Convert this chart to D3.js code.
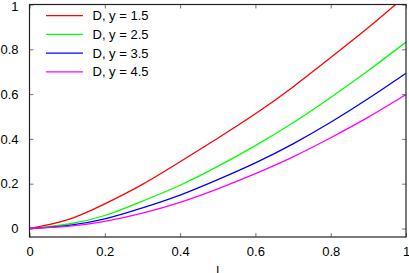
<!DOCTYPE html>
<html>
<head>
<meta charset="utf-8">
<script src="https://cdn.jsdelivr.net/npm/d3@7"></script>
<style>
  html, body { margin: 0; padding: 0; background: #fff; }
  svg { display: block; }
  text { font-family: "Liberation Sans", Arial, sans-serif; }
</style>
</head>
<body>
<div id="chart"></div>
<script>
// values
const lValues = [0, 0.1, 0.2, 0.3, 0.4, 0.5, 0.6, 0.7, 0.8, 0.9, 1.0];
const dY15 = [0, 0.038, 0.110, 0.197, 0.298, 0.403, 0.512, 0.632, 0.763, 0.897, 1.04];
const dY25 = [0, 0.019, 0.058, 0.122, 0.193, 0.277, 0.370, 0.472, 0.585, 0.705, 0.832];
const dY35 = [0, 0.013, 0.043, 0.092, 0.149, 0.218, 0.293, 0.378, 0.474, 0.580, 0.693];
const dY45 = [0, 0.009, 0.032, 0.069, 0.117, 0.177, 0.245, 0.320, 0.405, 0.497, 0.598];
const seriesNames = ["D, y = 1.5", "D, y = 2.5", "D, y = 3.5", "D, y = 4.5"];
const xTicks = [0, 0.2, 0.4, 0.6, 0.8, 1];
const yTicks = [0, 0.2, 0.4, 0.6, 0.8, 1];

const colours = ["#ff0000", "#00ff00", "#0000ff", "#ff00ff"];

const width = 409;
const height = 273;
const margin = {
    top: 4.5,
    right: 3,
    bottom: 36,
    left: 29.5
}

const series = [dY15, dY25, dY35, dY45].map((vals, i) => ({
    name: seriesNames[i],
    color: colours[i],
    points: lValues.map((l, j) => ({ l: l, v: vals[j] }))
}));

const svg = d3.select("#chart").append("svg")
                .attr("width", width)
                .attr("height", height);

let x = d3.scaleLinear().domain([0, 1]).range([margin.left, width - margin.right]);
let y = d3.scaleLinear().domain([-0.038, 1]).range([height - margin.bottom, margin.top]);

svg.append("clipPath").attr("id", "plotClip")
    .append("rect")
    .attr("x", margin.left).attr("y", margin.top)
    .attr("width", width - margin.left - margin.right)
    .attr("height", height - margin.top - margin.bottom);

// axes (ticks point inward, like the original)
const xAxisGroup = svg.append("g")
    .attr("transform", `translate(0, ${height - margin.bottom})`)
    .call(d3.axisBottom(x).tickValues(xTicks).tickSize(-4).tickPadding(9.5).tickFormat(d3.format("")));
const xTopGroup = svg.append("g")
    .attr("transform", `translate(0, ${margin.top})`)
    .call(d3.axisTop(x).tickValues(xTicks).tickSize(-4).tickFormat(""));
const yAxisGroup = svg.append("g")
    .attr("transform", `translate(${margin.left}, 0)`)
    .call(d3.axisLeft(y).tickValues(yTicks).tickSize(-4).tickPadding(11).tickFormat(d3.format("")));
const yRightGroup = svg.append("g")
    .attr("transform", `translate(${width - margin.right}, 0)`)
    .call(d3.axisRight(y).tickValues(yTicks).tickSize(-4).tickFormat(""));

svg.selectAll(".domain").remove();
svg.selectAll(".tick line").attr("stroke", "#777");
svg.selectAll(".tick text").attr("font-size", 13).attr("fill", "#000")
    .attr("font-family", "Liberation Sans, Arial, sans-serif");
// top label sits right at the edge; nudge it down a touch so it stays inside
yAxisGroup.selectAll(".tick text").filter(d => d === 1).attr("dy", "0.45em");

// curves
const line = d3.line()
    .x(d => x(d.l))
    .y(d => y(d.v))
    .curve(d3.curveNatural);

svg.append("g").attr("clip-path", "url(#plotClip)")
    .selectAll("path").data(series)
    .enter().append("path")
        .attr("fill", "none")
        .attr("stroke", d => d.color)
        .attr("stroke-width", 1.3)
        .attr("d", d => line(d.points));

// frame
svg.append("rect")
    .attr("x", margin.left).attr("y", margin.top)
    .attr("width", width - margin.left - margin.right)
    .attr("height", height - margin.top - margin.bottom)
    .attr("fill", "none")
    .attr("stroke", "#222")
    .attr("stroke-width", 1.2);

// legend
const legend = svg.append("g").attr("transform", "translate(46, 15.7)");
const items = legend.selectAll("g").data(series)
    .enter().append("g")
        .attr("transform", (d, i) => `translate(0, ${i * 18.7})`);
items.append("line")
    .attr("x1", 0).attr("x2", 37)
    .attr("stroke", d => d.color)
    .attr("stroke-width", 1.3);
items.append("text")
    .attr("x", 46.5)
    .attr("dy", "0.35em")
    .attr("font-size", 13)
    .text(d => d.name);

// x axis title (cut by the bottom edge in the original too)
svg.append("text")
    .attr("x", (margin.left + width - margin.right) / 2)
    .attr("y", 275)
    .attr("text-anchor", "middle")
    .attr("font-size", 13)
    .text("l");
</script>
</body>
</html>
